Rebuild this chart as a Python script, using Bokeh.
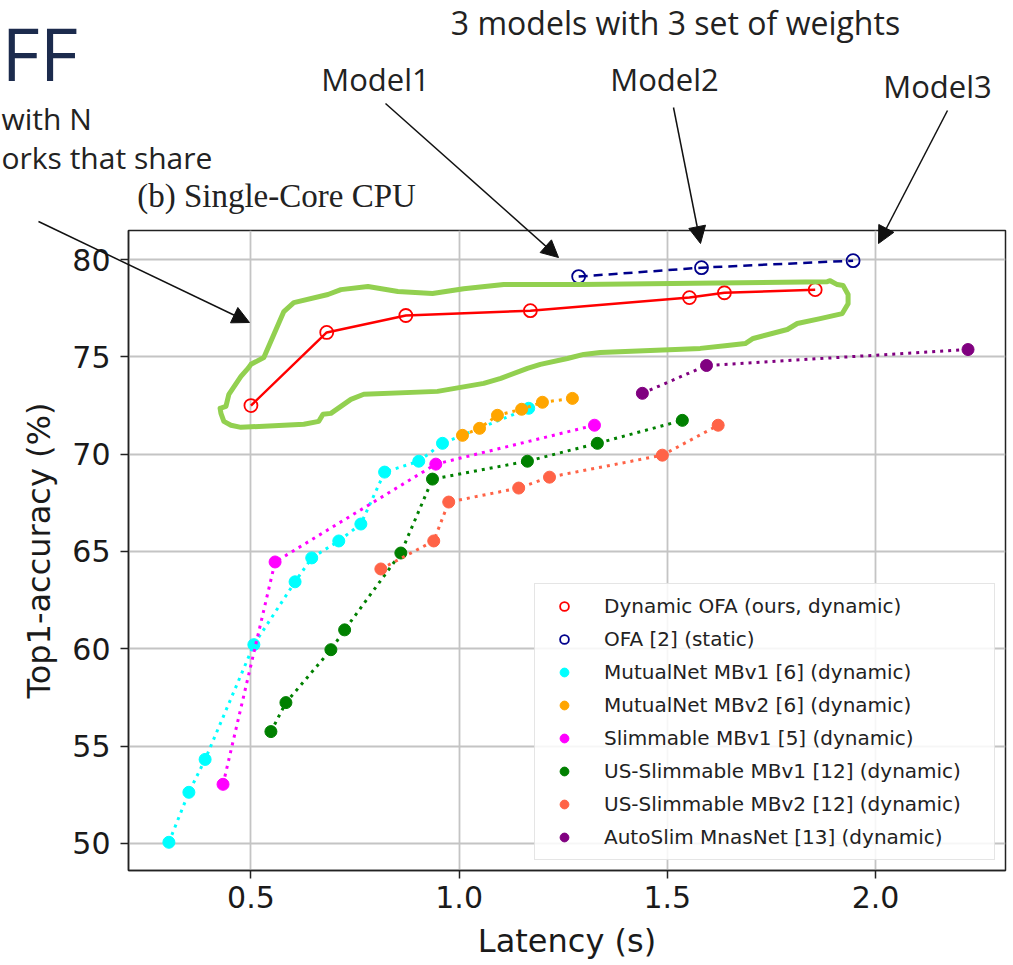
from bokeh.plotting import figure
from bokeh.layouts import column
from bokeh.models import (Range1d, FixedTicker, PrintfTickFormatter, Label, Arrow, NormalHead,
                          Legend, LegendItem)
from bokeh.embed import file_html
from bokeh.resources import INLINE

# ---------------- data ----------------
DYN_OFA_X = [0.50, 0.682, 0.872, 1.171, 1.553, 1.637, 1.855]
DYN_OFA_Y = [72.5, 76.26, 77.13, 77.38, 78.05, 78.30, 78.46]

OFA_X = [1.287, 1.582, 1.946]
OFA_Y = [79.13, 79.59, 79.95]

MUT1_X = [0.303, 0.351, 0.390, 0.507, 0.606, 0.646, 0.711, 0.764, 0.821, 0.903, 0.960, 1.167]
MUT1_Y = [50.05, 52.62, 54.31, 60.21, 63.44, 64.67, 65.54, 66.41, 69.08, 69.64, 70.56, 72.36]

MUT2_X = [1.008, 1.049, 1.092, 1.150, 1.200, 1.272]
MUT2_Y = [70.97, 71.33, 72.00, 72.31, 72.67, 72.87]

SLIM1_X = [0.433, 0.558, 0.944, 1.325]
SLIM1_Y = [53.03, 64.46, 69.49, 71.49]

USS1_X = [0.548, 0.584, 0.692, 0.725, 0.860, 0.936, 1.164, 1.332, 1.536]
USS1_Y = [55.74, 57.23, 59.95, 60.97, 64.92, 68.72, 69.64, 70.56, 71.74]

USS2_X = [0.812, 0.939, 0.975, 1.143, 1.217, 1.488, 1.622]
USS2_Y = [64.10, 65.54, 67.54, 68.26, 68.82, 69.95, 71.49]

AUTO_X = [1.440, 1.594, 2.222]
AUTO_Y = [73.13, 74.56, 75.38]

LABELS = [
    "Dynamic OFA (ours, dynamic)",
    "OFA [2] (static)",
    "MutualNet MBv1 [6] (dynamic)",
    "MutualNet MBv2 [6] (dynamic)",
    "Slimmable MBv1 [5] (dynamic)",
    "US-Slimmable MBv1 [12] (dynamic)",
    "US-Slimmable MBv2 [12] (dynamic)",
    "AutoSlim MnasNet [13] (dynamic)",
]

X_TICKS = [0.5, 1.0, 1.5, 2.0]
Y_TICKS = [50, 55, 60, 65, 70, 75, 80]

# hand-drawn highlight around the Dynamic OFA curve (data units)
OUTLINE_X = [0.426, 0.440, 0.447, 0.476, 0.493, 0.500, 0.531, 0.555, 0.579, 0.603, 0.685, 0.716,
             0.781, 0.853, 0.936, 1.011, 1.107, 1.291, 1.884, 1.891, 1.908, 1.922, 1.934, 1.934,
             1.920, 1.867, 1.812, 1.788, 1.706, 1.687, 1.644, 1.579, 1.339, 1.299, 1.260, 1.195,
             1.164, 1.100, 1.059, 0.948, 0.771, 0.740, 0.716, 0.692, 0.673, 0.663, 0.627, 0.476,
             0.452, 0.435, 0.428, 0.426]
OUTLINE_Y = [72.36, 72.46, 73.08, 74.00, 74.41, 74.62, 74.97, 76.15, 77.33, 77.79, 78.21, 78.46,
             78.62, 78.36, 78.26, 78.51, 78.72, 78.72, 78.87, 78.92, 78.72, 78.67, 78.21, 77.74,
             77.23, 76.97, 76.72, 76.41, 75.95, 75.69, 75.59, 75.44, 75.23, 75.13, 74.92, 74.62,
             74.41, 73.90, 73.64, 73.23, 73.08, 72.82, 72.46, 72.10, 72.05, 71.69, 71.54, 71.38,
             71.49, 71.69, 72.10, 72.36]

# ---------------- layout ----------------
W, H = 1013, 965
FRAME_L, FRAME_R, FRAME_T, FRAME_B = 128, 1005, 230, 870   # canvas pixels
X0, X1 = 0.206, 2.312
Y0, Y1 = 48.6, 81.5

p = figure(width=W, height=H, output_backend="svg", toolbar_location=None,
           x_range=Range1d(X0, X1), y_range=Range1d(Y0, Y1),
           min_border_left=FRAME_L, min_border_right=W - FRAME_R,
           min_border_top=FRAME_T, min_border_bottom=H - FRAME_B)
p.frame_align = False
p.background_fill_color = "white"
p.border_fill_color = "white"
p.outline_line_color = "#222222"
p.outline_line_width = 1.5

p.xaxis.ticker = FixedTicker(ticks=X_TICKS)
p.yaxis.ticker = FixedTicker(ticks=Y_TICKS)
p.xaxis.formatter = PrintfTickFormatter(format="%.1f")
for ax in (p.xaxis, p.yaxis):
    ax.axis_line_color = "#222222"
    ax.axis_line_width = 1.5
    ax.major_tick_line_color = "#222222"
    ax.major_tick_line_width = 1.5
    ax.major_tick_out = 8
    ax.major_tick_in = 0
    ax.minor_tick_line_color = None
    ax.major_label_text_font = "DejaVu Sans"
    ax.major_label_text_font_size = "30px"
    ax.major_label_text_color = "#1a1a1a"
    ax.axis_label_text_font = "DejaVu Sans"
    ax.axis_label_text_font_size = "32px"
    ax.axis_label_text_font_style = "normal"
    ax.axis_label_text_color = "#1a1a1a"
p.xaxis.axis_label = "Latency (s)"
p.yaxis.axis_label = "Top1-accuracy (%)"
p.xaxis.major_label_standoff = 7
p.xaxis.axis_label_standoff = 11
p.yaxis.major_label_standoff = 10
p.yaxis.axis_label_standoff = 11

p.grid.grid_line_color = "#c4c4c4"
p.grid.grid_line_width = 1.8

DOT = "3 5"
renderers = []

p.line(DYN_OFA_X, DYN_OFA_Y, line_color="#ff0000", line_width=2.5)
renderers.append(p.scatter(DYN_OFA_X, DYN_OFA_Y, marker="circle", size=13, fill_color=None,
                           line_color="#ff0000", line_width=1.8))

p.line(OFA_X, OFA_Y, line_color="#00008b", line_width=2.5, line_dash="9 6")
renderers.append(p.scatter(OFA_X, OFA_Y, marker="circle", size=13, fill_color=None,
                           line_color="#00008b", line_width=1.8))

series = [
    (MUT1_X, MUT1_Y, "#00ffff"),
    (MUT2_X, MUT2_Y, "#ffa500"),
    (SLIM1_X, SLIM1_Y, "#ff00ff"),
    (USS1_X, USS1_Y, "#008000"),
    (USS2_X, USS2_Y, "#ff6347"),
    (AUTO_X, AUTO_Y, "#800080"),
]
for xs, ys, c in series:
    p.line(xs, ys, line_color=c, line_width=3, line_dash=DOT)
    renderers.append(p.scatter(xs, ys, marker="circle", size=12, fill_color=c, line_color=c))

# hand-drawn green highlight
p.line(OUTLINE_X, OUTLINE_Y, line_color="#92d050", line_width=5, line_join="round", line_cap="round")

legend = Legend(items=[LegendItem(label=l, renderers=[r]) for l, r in zip(LABELS, renderers)],
                location="bottom_right", margin=10, padding=10, spacing=9,
                glyph_width=38, glyph_height=22, label_height=22, label_width=380,
                label_standoff=21, label_text_font="DejaVu Sans", label_text_font_size="20px",
                label_text_color="#222222", border_line_color="#cccccc", border_line_width=1.5,
                background_fill_color="white", background_fill_alpha=0.85)
p.add_layout(legend)

# ---------------- transparent overlay for annotations around the axes ----------------
q = figure(width=W, height=H, output_backend="svg", toolbar_location=None,
           x_range=Range1d(0, W), y_range=Range1d(H, 0),
           x_axis_type=None, y_axis_type=None,
           min_border_left=0, min_border_right=0, min_border_top=0, min_border_bottom=0)
q.frame_align = False
q.outline_line_color = None
q.background_fill_color = None
q.border_fill_color = None
q.grid.visible = False
q.styles = {"position": "absolute", "top": "0px", "left": "0px", "pointer-events": "none"}

TXT = "#222222"


def add_label(text, x, y, size, font="Open Sans", align="center", color=TXT, baseline="middle"):
    q.add_layout(Label(x=x, y=y, text=text, text_font=font, text_font_size=size,
                       text_color=color, text_align=align, text_baseline=baseline))


add_label("FF", 1, 1, "74px", align="left", color="#1c2b4d", baseline="top")
add_label("3 models with 3 set of weights", 675, 22, "32px")
add_label("Model1", 375, 78, "31px")
add_label("Model2", 664, 78, "31px")
add_label("Model3", 937, 85, "31px")
add_label("with N", 1, 118, "30px", align="left")
add_label("orks that share", 1, 157, "30px", align="left")
add_label("(b) Single-Core CPU", 276, 195, "33px", font="Liberation Serif")

ARROWS = [((38, 221), (249, 322)),
          ((385, 103), (558, 257)),
          ((673, 107), (700, 243)),
          ((947, 110), (878, 243))]
for (sx, sy), (ex, ey) in ARROWS:
    q.add_layout(Arrow(x_start=sx, y_start=sy, x_end=ex, y_end=ey,
                       line_color="#111111", line_width=1.5,
                       end=NormalHead(size=17, fill_color="#111111", line_color="#111111", line_width=1)))

root = column(p, q)
open("out.html", "w").write(file_html(root, INLINE))
